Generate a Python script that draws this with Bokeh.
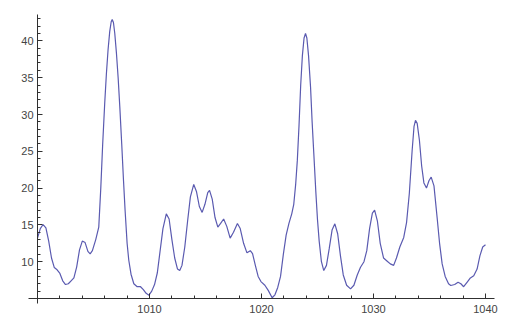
from bokeh.plotting import figure
from bokeh.models import FixedTicker, Range1d
from bokeh.embed import file_html
from bokeh.resources import INLINE

# Values
xs = [1000.0, 1000.25, 1000.5, 1000.75, 1001.0, 1001.25, 1001.5, 1001.75, 1002.0, 1002.25,
      1002.5, 1002.75, 1003.0, 1003.25, 1003.5, 1003.75, 1004.0, 1004.25, 1004.5, 1004.7,
      1004.9, 1005.2, 1005.47, 1005.65, 1005.82, 1006.0, 1006.15, 1006.3, 1006.45, 1006.58,
      1006.67, 1006.78, 1006.9, 1007.05, 1007.2, 1007.35, 1007.52, 1007.68, 1007.82, 1008.0,
      1008.15, 1008.35, 1008.6, 1008.9, 1009.2, 1009.45, 1009.7, 1009.95, 1010.2, 1010.45,
      1010.7, 1010.95, 1011.2, 1011.5, 1011.75, 1012.0, 1012.25, 1012.5, 1012.7, 1012.9,
      1013.15, 1013.4, 1013.65, 1013.95, 1014.2, 1014.45, 1014.7, 1014.95, 1015.2, 1015.36,
      1015.6, 1015.85, 1016.1, 1016.35, 1016.62, 1016.9, 1017.2, 1017.5, 1017.85, 1018.1,
      1018.4, 1018.7, 1019.0, 1019.2, 1019.45, 1019.7, 1019.95, 1020.3, 1020.6, 1020.95,
      1021.2, 1021.45, 1021.7, 1021.95, 1022.2, 1022.45, 1022.7, 1022.88, 1023.05, 1023.2,
      1023.35, 1023.5, 1023.65, 1023.8, 1023.93, 1024.05, 1024.2, 1024.38, 1024.52, 1024.67,
      1024.85, 1025.0, 1025.15, 1025.35, 1025.56, 1025.8, 1026.05, 1026.3, 1026.55, 1026.8,
      1027.05, 1027.3, 1027.6, 1027.95, 1028.25, 1028.55, 1028.84, 1029.15, 1029.4, 1029.65,
      1029.9, 1030.1, 1030.35, 1030.6, 1030.9, 1031.2, 1031.5, 1031.8, 1032.05, 1032.35,
      1032.7, 1032.95, 1033.2, 1033.45, 1033.62, 1033.75, 1033.9, 1034.1, 1034.3, 1034.5,
      1034.73, 1034.95, 1035.15, 1035.4, 1035.68, 1035.9, 1036.13, 1036.4, 1036.7, 1036.9,
      1037.25, 1037.55, 1037.8, 1038.05, 1038.35, 1038.65, 1038.95, 1039.25, 1039.5, 1039.75,
      1040.0]
ys = [13.2, 14.5, 15.05, 14.6, 12.8, 10.5, 9.2, 8.9, 8.4, 7.4,
      6.9, 7.0, 7.4, 7.8, 9.3, 11.6, 12.8, 12.6, 11.4, 11.07,
      11.5, 13.0, 14.7, 20.0, 26.0, 31.5, 35.5, 38.8, 41.3, 42.6,
      42.9, 42.5, 41.0, 38.3, 35.0, 31.0, 26.0, 21.0, 17.0, 12.5,
      10.2, 8.3, 7.0, 6.6, 6.6, 6.2, 5.7, 5.45, 6.0, 6.9,
      8.5, 11.5, 14.5, 16.5, 15.8, 13.0, 10.5, 9.0, 8.8, 9.5,
      12.0, 15.5, 18.8, 20.5, 19.5, 17.5, 16.7, 17.8, 19.4, 19.7,
      18.5, 16.0, 14.7, 15.2, 15.8, 14.8, 13.2, 14.0, 15.2, 14.5,
      12.5, 11.2, 11.5, 11.1, 9.5, 8.0, 7.3, 6.8, 6.1, 5.1,
      5.5, 6.5, 8.0, 11.0, 13.6, 15.2, 16.5, 17.8, 20.5, 23.8,
      28.5, 34.0, 38.0, 40.4, 41.0, 40.4, 38.0, 33.7, 29.0, 24.7,
      19.5, 15.7, 12.8, 10.0, 8.8, 9.5, 11.8, 14.3, 15.15, 13.8,
      10.8, 8.2, 6.8, 6.3, 6.8, 8.2, 9.25, 10.0, 11.5, 14.5,
      16.6, 17.0, 15.5, 12.5, 10.5, 10.1, 9.7, 9.5, 10.5, 12.0,
      13.3, 15.3, 19.3, 25.1, 28.4, 29.2, 28.8, 26.5, 23.0, 20.7,
      20.0, 21.0, 21.5, 20.3, 16.0, 12.5, 9.7, 8.0, 7.0, 6.77,
      6.9, 7.2, 7.0, 6.6, 7.2, 7.8, 8.1, 9.0, 10.8, 12.0,
      12.3]

x_major = [1010, 1020, 1030, 1040]
x_minor = list(range(1000, 1041, 2))
y_major = [10, 15, 20, 25, 30, 35, 40]
y_minor = list(range(5, 44))

p = figure(width=509, height=330, output_backend="svg", toolbar_location=None,
           x_range=Range1d(996.696, 1042.143), y_range=Range1d(0.652, 45.49),
           min_border_left=0, min_border_right=0, min_border_top=0, min_border_bottom=0,
           background_fill_color="white", border_fill_color="white")
p.outline_line_color = None
p.grid.visible = False

p.line(xs, ys, line_color="#5a5ab0", line_width=1.2)

for ax in (p.xaxis[0], p.yaxis[0]):
    ax.axis_line_color = "#303030"
    ax.major_tick_line_color = "#303030"
    ax.minor_tick_line_color = "#303030"
    ax.major_tick_out = 0
    ax.minor_tick_out = 0
    ax.major_tick_in = 5
    ax.minor_tick_in = 3
    ax.major_label_text_font = "Liberation Sans"
    ax.major_label_text_font_size = "11px"
    ax.major_label_text_color = "#444444"

p.xaxis.ticker = FixedTicker(ticks=x_major, minor_ticks=x_minor)
p.yaxis.ticker = FixedTicker(ticks=y_major, minor_ticks=y_minor)
p.xaxis.fixed_location = 5
p.yaxis.fixed_location = 1000
p.xaxis.bounds = (999.2, 1040.8)
p.yaxis.bounds = (4.35, 43.65)
p.xaxis.major_label_standoff = 7
p.yaxis.major_label_standoff = 4

open("out.html", "w").write(file_html(p, INLINE))
